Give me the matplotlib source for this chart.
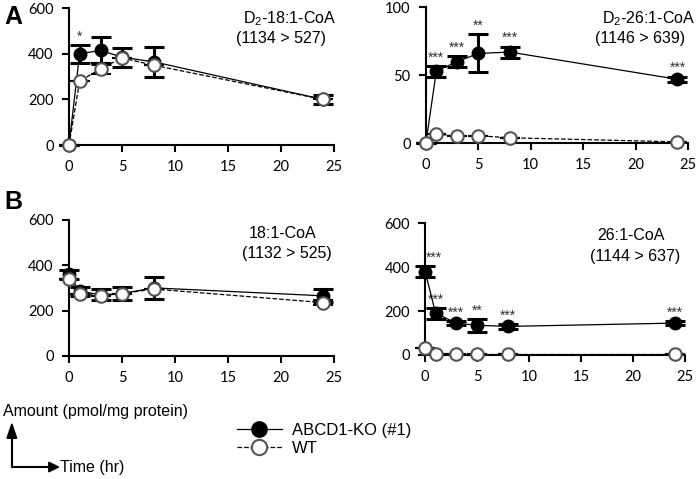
import numpy as np
import matplotlib.pyplot as plt
from matplotlib.lines import Line2D

# Time points (hr)
time = [0, 1, 3, 5, 8, 24]

# Panel A, D2-18:1-CoA
a1_ko = [0, 400, 415, 385, 365, 200]
a1_ko_err = [0, 40, 60, 42, 65, 20]
a1_wt = [0, 280, 335, 382, 350, 200]
a1_wt_err = [0, 0, 25, 0, 0, 0]
a1_stars = ['', '*', '', '', '', '']

# Panel A, D2-26:1-CoA
a2_ko = [0, 53, 60, 66, 67, 47]
a2_ko_err = [0, 4, 4, 14, 4, 2]
a2_wt = [0, 7, 5, 5.5, 4, 1]
a2_wt_err = [0, 0, 0, 0, 0, 0]
a2_stars = ['', '***', '***', '**', '***', '***']

# Panel B, 18:1-CoA
b1_ko = [360, 285, 270, 275, 300, 265]
b1_ko_err = [20, 20, 25, 30, 50, 28]
b1_wt = [340, 275, 265, 275, 295, 235]
b1_wt_err = [0, 0, 0, 0, 0, 10]
b1_stars = ['', '', '', '', '', '']

# Panel B, 26:1-CoA
b2_ko = [380, 190, 145, 135, 130, 145]
b2_ko_err = [25, 25, 10, 30, 10, 10]
b2_wt = [30, 5, 2, 2, 2, 2]
b2_wt_err = [0, 0, 0, 0, 0, 0]
b2_stars = ['***', '***', '***', '**', '***', '***']

panels = [
    ([0.099, 0.697, 0.380, 0.286], a1_ko, a1_ko_err, a1_wt, a1_wt_err, a1_stars,
     600, [0, 200, 400, 600], 'D$_2$-18:1-CoA', '(1134 > 527)', (0.349, 0.962)),
    ([0.611, 0.701, 0.376, 0.284], a2_ko, a2_ko_err, a2_wt, a2_wt_err, a2_stars,
     100, [0, 50, 100], 'D$_2$-26:1-CoA', '(1146 > 639)', (0.864, 0.962)),
    ([0.099, 0.257, 0.380, 0.284], b1_ko, b1_ko_err, b1_wt, b1_wt_err, b1_stars,
     600, [0, 200, 400, 600], '18:1-CoA', '(1132 > 525)', (0.357, 0.513)),
    ([0.610, 0.259, 0.373, 0.275], b2_ko, b2_ko_err, b2_wt, b2_wt_err, b2_stars,
     600, [0, 200, 400, 600], '26:1-CoA', '(1144 > 637)', (0.857, 0.508)),
]

plt.rcParams['mathtext.fontset'] = 'custom'
plt.rcParams['mathtext.rm'] = 'Liberation Sans'
txt_font = 'Liberation Sans'
tick_font = 'Lato'

fig = plt.figure(figsize=(6.97, 4.79), dpi=100)

for rect, ko, ko_err, wt, wt_err, stars, ymax, yticks, name, trans, tpos in panels:
    ax = fig.add_axes(rect)
    ax.errorbar(time, ko, yerr=ko_err, color='black', marker='o', markersize=9,
                markerfacecolor='black', markeredgecolor='black', linewidth=0.9,
                elinewidth=2.2, capsize=7, capthick=2.2, clip_on=False, zorder=3)
    ax.errorbar(time, wt, yerr=wt_err, color='black', linestyle='--', marker='o',
                markersize=9, markerfacecolor='white', markeredgecolor='#555555',
                markeredgewidth=1.5, linewidth=0.9, elinewidth=2.2, capsize=7,
                capthick=2.2, clip_on=False, zorder=4)
    for t, k, e, s in zip(time, ko, ko_err, stars):
        if s:
            dx = 6 if t == 0 else 0
            ax.annotate(s, (t, k + e), xytext=(dx, 1), textcoords='offset points',
                        ha='center', va='bottom', fontsize=10, color='#333333',
                        family=txt_font)
    ax.set_xlim(0, 25)
    ax.set_ylim(0, ymax)
    ax.set_xticks([0, 5, 10, 15, 20, 25])
    ax.set_yticks(yticks)
    ax.spines['top'].set_visible(False)
    ax.spines['right'].set_visible(False)
    ax.spines['left'].set_linewidth(1.5)
    ax.spines['bottom'].set_linewidth(1.5)
    ax.tick_params(labelsize=10.5, width=1.5, length=5, pad=6)
    for lab in ax.get_xticklabels() + ax.get_yticklabels():
        lab.set_family(tick_font)
    ax.text(tpos[0], tpos[1], name, transform=fig.transFigure, fontsize=11.5,
            ha='left', va='center', family=txt_font)
    ax.text(tpos[0] - 0.01, tpos[1] - 0.043, trans, transform=fig.transFigure,
            fontsize=11.5, ha='left', va='center', family=txt_font)

fig.text(0.006, 0.965, 'A', fontsize=18, fontweight='bold', va='center',
         family=txt_font)
fig.text(0.006, 0.578, 'B', fontsize=18, fontweight='bold', va='center',
         family=txt_font)

# axis key
fig.text(0.004, 0.140, 'Amount (pmol/mg protein)', fontsize=11.5, va='center',
         family=txt_font)
fig.text(0.086, 0.025, 'Time (hr)', fontsize=11.5, va='center', family=txt_font)
fig.add_artist(plt.Line2D([0.017, 0.017], [0.025, 0.085], color='black', lw=1.5,
                          transform=fig.transFigure))
fig.add_artist(plt.Line2D([0.017, 0.072], [0.025, 0.025], color='black', lw=1.5,
                          transform=fig.transFigure))
fig.patches.append(plt.Polygon([[0.010, 0.085], [0.024, 0.085], [0.017, 0.115]],
                               closed=True, color='black', transform=fig.transFigure))
fig.patches.append(plt.Polygon([[0.070, 0.015], [0.070, 0.035], [0.084, 0.025]],
                               closed=True, color='black', transform=fig.transFigure))

handles = [
    Line2D([], [], color='black', marker='o', markersize=11, markerfacecolor='black',
           linewidth=0.9),
    Line2D([], [], color='black', linestyle='--', marker='o', markersize=11,
           markerfacecolor='white', markeredgecolor='#555555', markeredgewidth=1.5,
           linewidth=0.9),
]
fig.legend(handles, ['ABCD1-KO (#1)', 'WT'], loc='upper left',
           bbox_to_anchor=(0.318, 0.148), frameon=False,
           prop={'family': txt_font, 'size': 12},
           handlelength=2.7, handletextpad=0.6, labelspacing=0.15)

fig.savefig('out.png', dpi=100)
